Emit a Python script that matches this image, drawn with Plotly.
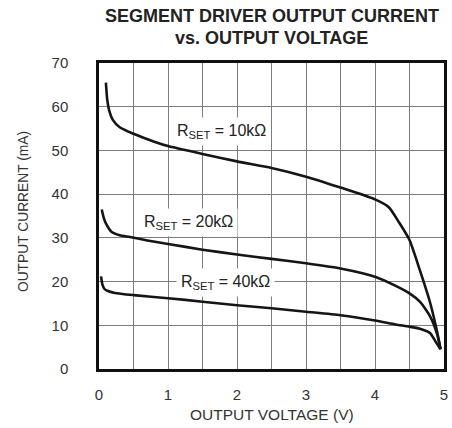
import plotly.graph_objects as go

# Data
v_10k = [0.10, 0.12, 0.15, 0.20, 0.30, 0.50, 0.80, 1.00, 1.50, 2.00, 2.50, 3.00, 3.50, 4.00, 4.20, 4.35, 4.50, 4.65, 4.80, 4.90, 4.95]
i_10k = [65.5, 61.5, 59.0, 57.0, 55.3, 53.8, 52.0, 51.0, 49.2, 47.5, 46.0, 44.0, 41.5, 38.8, 37.0, 33.5, 29.5, 22.6, 15.1, 8.5, 4.5]

v_20k = [0.04, 0.07, 0.10, 0.18, 0.30, 0.45, 0.70, 1.00, 1.50, 2.00, 2.50, 3.00, 3.50, 4.00, 4.30, 4.50, 4.65, 4.80, 4.90, 4.95]
i_20k = [36.5, 34.5, 33.3, 31.4, 30.6, 30.2, 29.4, 28.6, 27.3, 26.2, 25.2, 24.2, 23.0, 21.1, 19.0, 17.3, 15.4, 12.0, 8.0, 4.5]

v_40k = [0.03, 0.05, 0.08, 0.12, 0.23, 0.50, 1.00, 1.50, 2.00, 2.50, 3.00, 3.50, 4.00, 4.30, 4.50, 4.65, 4.80, 4.88, 4.95]
i_40k = [21.2, 19.3, 18.3, 17.9, 17.4, 16.9, 16.2, 15.4, 14.6, 13.9, 13.1, 12.3, 11.1, 10.2, 9.7, 9.2, 8.2, 6.2, 4.5]

x_major_dtick = 1
x_minor_dtick = 0.5
y_tickvals = [0, 10, 20, 30, 40, 50, 60, 70]

labels = ["R<sub>SET</sub> = 10kΩ", "R<sub>SET</sub> = 20kΩ", "R<sub>SET</sub> = 40kΩ"]
label_x = [1.78, 1.29, 1.83]
label_y = [54.3, 33.4, 19.7]

title_lines = ["<b>SEGMENT DRIVER OUTPUT CURRENT</b>", "<b>vs. OUTPUT VOLTAGE</b>"]
x_title = "OUTPUT VOLTAGE (V)"
y_title = "OUTPUT CURRENT (mA)"

FONT = "Liberation Sans, Arial, sans-serif"
GRID = "#7d7d7d"

fig = go.Figure()
for vx, iy in [(v_10k, i_10k), (v_20k, i_20k), (v_40k, i_40k)]:
    fig.add_trace(go.Scatter(
        x=vx, y=iy, mode="lines",
        line=dict(color="#151515", width=2.6, shape="spline", smoothing=0.6),
        showlegend=False, hoverinfo="skip"))

for t, lx, ly in zip(labels, label_x, label_y):
    fig.add_annotation(x=lx, y=ly, text=t, showarrow=False,
                       font=dict(family=FONT, size=16, color="#222222"),
                       bgcolor="white", borderpad=4)

# Title lines
for t, ty in zip(title_lines, [1.1536, 1.0817]):
    fig.add_annotation(xref="paper", yref="paper", x=0.5014, y=ty, text=t,
                       showarrow=False, xanchor="center", yanchor="middle",
                       font=dict(family=FONT, size=18, color="#222222"))

# Axis titles
fig.add_annotation(xref="paper", yref="paper", x=0.501, y=-0.1503, text=x_title,
                   showarrow=False, xanchor="center", yanchor="middle",
                   font=dict(family=FONT, size=15.5, color="#333333"))
fig.add_annotation(xref="paper", yref="paper", x=-0.2203, y=0.516, text=y_title,
                   showarrow=False, xanchor="center", yanchor="middle", textangle=-90,
                   font=dict(family=FONT, size=13.8, color="#333333"))

fig.update_layout(
    width=452, height=428,
    margin=dict(l=99, r=8, t=63, b=59),
    paper_bgcolor="white", plot_bgcolor="white",
    font=dict(family=FONT, color="#222222"),
)

fig.update_xaxes(
    range=[0, 5], tick0=0, dtick=x_major_dtick,
    showgrid=True, gridcolor=GRID, gridwidth=1,
    minor=dict(dtick=x_minor_dtick, tick0=0, showgrid=True, gridcolor=GRID, gridwidth=1),
    showline=True, linecolor="#111111", linewidth=2.5, mirror=True,
    ticks="", ticklabelstandoff=10,
    tickfont=dict(family=FONT, size=15, color="#333333"),
    zeroline=False, automargin=False, layer="above traces")

fig.update_yaxes(
    range=[0, 70], tickvals=y_tickvals,
    showgrid=True, gridcolor=GRID, gridwidth=1,
    showline=True, linecolor="#111111", linewidth=2.5, mirror=True,
    ticks="", ticklabelstandoff=25,
    tickfont=dict(family=FONT, size=15, color="#333333"),
    zeroline=False, automargin=False, layer="above traces")

fig.write_html("out.html", config={"displayModeBar": False},
               post_script="document.body.style.margin='0';document.body.style.overflow='hidden';")
